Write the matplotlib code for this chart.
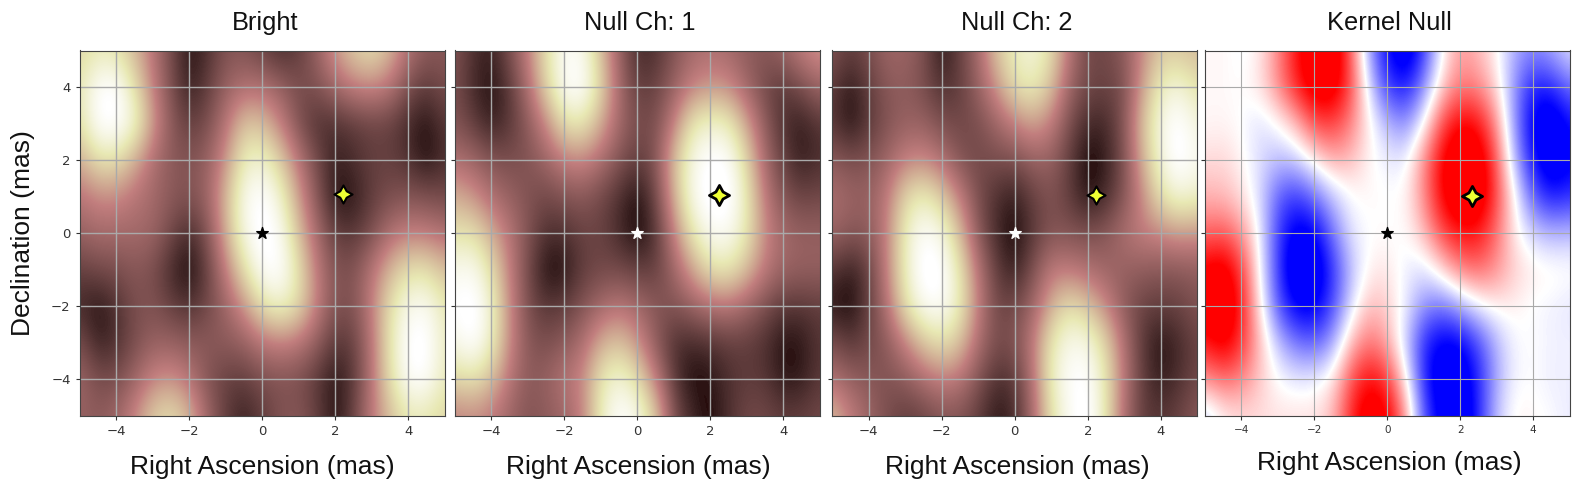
import matplotlib
matplotlib.use("Agg")
import matplotlib.pyplot as plt
import numpy as np
from matplotlib.colors import Normalize, PowerNorm
from matplotlib.path import Path

# Sample positions (mas)
ra_mas = [-5, -4.5, -4, -3.5, -3, -2.5, -2, -1.5, -1, -0.5, 0, 0.5, 1, 1.5, 2, 2.5, 3, 3.5, 4, 4.5, 5]
dec_mas = [5, 4, 3, 2, 1, 0, -1, -2, -3, -4, -5]

# One row per declination, top row first
bright = [
    [.68, .75, .72, .58, .38, .18, .03, .10, .22, .22, .15, .08, .14, .28, .50, .65, .72, .58, .36, .25, .24],
    [.75, .95, .97, .72, .42, .20, .05, .14, .28, .35, .35, .28, .20, .22, .32, .42, .45, .38, .20, .13, .20],
    [.72, .97, .98, .85, .50, .25, .14, .20, .38, .62, .60, .42, .20, .10, .10, .13, .16, .15, .08, .03, .12],
    [.55, .72, .72, .55, .35, .25, .22, .28, .48, .78, .82, .65, .38, .18, .06, .10, .15, .15, .10, .02, .10],
    [.38, .45, .45, .38, .32, .25, .22, .30, .58, .90, .98, .82, .50, .22, .03, .04, .14, .20, .22, .20, .18],
    [.28, .33, .32, .32, .30, .18, .08, .22, .55, .88, 1.0, .92, .60, .32, .14, .12, .20, .35, .42, .40, .35],
    [.15, .18, .20, .24, .20, .08, .01, .15, .42, .72, .95, .97, .72, .40, .22, .22, .38, .58, .72, .72, .60],
    [.08, .03, .10, .20, .22, .15, .10, .18, .30, .48, .72, .82, .70, .42, .22, .22, .42, .72, .90, .92, .75],
    [.20, .06, .10, .20, .28, .28, .25, .25, .25, .28, .38, .42, .38, .26, .12, .15, .38, .75, .97, .98, .78],
    [.30, .20, .20, .30, .44, .48, .38, .22, .15, .14, .20, .22, .20, .12, .03, .12, .38, .72, .95, .95, .76],
    [.28, .25, .30, .45, .65, .72, .58, .30, .14, .06, .14, .22, .24, .15, .03, .16, .40, .60, .75, .74, .68],
]
null_1 = [
    [.22, .10, .06, .20, .42, .72, .92, .90, .60, .28, .08, .10, .22, .32, .35, .32, .26, .24, .30, .42, .50],
    [.20, .08, .03, .12, .35, .68, .95, .97, .68, .32, .14, .16, .28, .42, .48, .45, .30, .18, .12, .20, .30],
    [.22, .14, .05, .12, .25, .45, .72, .75, .55, .32, .20, .20, .42, .75, .82, .78, .52, .25, .10, .05, .12],
    [.35, .30, .22, .20, .22, .30, .42, .45, .35, .22, .14, .22, .60, .88, .98, .95, .68, .32, .14, .05, .10],
    [.55, .48, .35, .28, .22, .18, .22, .24, .18, .10, .02, .16, .55, .90, 1.0, 1.0, .75, .40, .22, .16, .18],
    [.72, .72, .55, .38, .22, .10, .10, .16, .16, .08, .01, .10, .42, .75, .92, .92, .75, .45, .32, .28, .28],
    [.90, .92, .72, .42, .18, .02, .03, .14, .18, .18, .14, .15, .30, .52, .72, .75, .60, .40, .30, .28, .28],
    [.95, 1.0, .82, .45, .20, .12, .14, .22, .32, .38, .32, .24, .22, .28, .36, .38, .30, .20, .12, .12, .14],
    [.88, .98, .80, .45, .24, .20, .25, .35, .55, .62, .48, .25, .10, .08, .10, .14, .14, .10, .03, .04, .12],
    [.68, .72, .60, .38, .25, .28, .38, .45, .75, .85, .72, .42, .12, .02, .04, .10, .14, .12, .04, .05, .13],
    [.42, .45, .40, .30, .22, .25, .30, .42, .78, .97, .90, .65, .20, .08, .02, .10, .18, .18, .14, .15, .18],
]
null_2 = [
    [.22, .14, .20, .30, .30, .22, .03, .15, .32, .62, .78, .85, .72, .38, .18, .18, .25, .45, .62, .62, .58],
    [.14, .04, .14, .24, .26, .20, .10, .14, .28, .48, .72, .78, .62, .30, .18, .16, .20, .50, .78, .85, .72],
    [.12, .02, .12, .22, .28, .28, .20, .18, .20, .30, .42, .52, .42, .20, .08, .08, .22, .60, .88, .98, .85],
    [.25, .20, .22, .30, .42, .45, .36, .22, .18, .20, .20, .28, .28, .14, .01, .05, .20, .55, .85, 1.0, .90],
    [.35, .30, .28, .40, .68, .78, .65, .42, .20, .10, .05, .15, .22, .14, .03, .08, .22, .45, .72, .85, .80],
    [.30, .24, .25, .42, .78, .95, .88, .60, .24, .08, .01, .12, .22, .22, .20, .24, .35, .42, .45, .50, .48],
    [.12, .05, .14, .42, .78, 1.0, .98, .75, .38, .14, .05, .20, .40, .40, .35, .30, .28, .26, .24, .24, .26],
    [.04, .01, .14, .36, .72, .92, .95, .78, .42, .18, .18, .30, .55, .72, .62, .45, .25, .16, .14, .16, .22],
    [.20, .12, .18, .25, .42, .62, .72, .62, .35, .20, .22, .40, .75, .90, .88, .68, .36, .12, .03, .08, .16],
    [.36, .28, .24, .22, .25, .34, .42, .38, .22, .10, .12, .36, .78, .95, .97, .75, .38, .14, .05, .10, .18],
    [.60, .42, .30, .20, .14, .16, .22, .22, .14, .04, .08, .32, .72, .92, 1.0, .75, .35, .14, .12, .16, .24],
]
kernel = [
    [.02, .03, -.03, .05, .35, .70, .95, .95, .50, -.30, -.75, -.95, -.60, .00, .30, .20, .02, -.25, -.35, -.25, -.08],
    [.02, .02, .00, .08, .35, .68, .90, .90, .55, -.10, -.60, -.70, -.35, .15, .40, .35, .10, -.35, -.68, -.65, -.42],
    [.02, .03, .00, -.10, .00, .20, .55, .58, .38, .04, -.22, -.35, .00, .55, .78, .72, .32, -.35, -.82, -.95, -.72],
    [.10, .12, .03, -.10, -.20, -.15, .05, .25, .20, .03, -.05, -.06, .35, .78, 1.0, .92, .50, -.25, -.72, -.95, -.80],
    [.22, .20, .10, -.10, -.48, -.60, -.42, -.18, .00, .02, .00, .02, .35, .78, .98, .95, .55, .00, -.50, -.70, -.62],
    [.45, .50, .32, -.03, -.58, -.85, -.80, -.42, -.08, .00, .00, .00, .20, .55, .72, .70, .42, .04, -.14, -.22, -.20],
    [.80, .88, .60, .00, -.60, -.98, -.95, -.62, -.20, .04, .08, -.05, -.10, .12, .38, .45, .32, .14, .06, .04, .02],
    [.92, 1.0, .68, .08, -.52, -.80, -.82, -.55, -.10, .20, .14, -.05, -.33, -.42, -.25, -.05, .05, .04, -.02, -.04, -.08],
    [.68, .85, .62, .20, -.18, -.42, -.48, -.28, .20, .42, .26, -.15, -.65, -.82, -.78, -.55, -.22, -.02, .00, -.04, -.04],
    [.32, .44, .36, .16, .00, -.06, -.04, .07, .53, .75, .60, .06, -.66, -.93, -.93, -.65, -.24, -.02, -.01, -.05, -.05],
    [-.18, .03, .10, .10, .08, .09, .08, .20, .64, .93, .82, .33, -.52, -.84, -.98, -.65, -.17, .04, .02, -.01, -.06],
]

titles = ["Bright", "Null Ch: 1", "Null Ch: 2", "Kernel Null"]
star_ra = [0, 0, 0, 0]
star_dec = [0, 0, 0, 0]
planet_ra = [2.2, 2.24, 2.23, 2.33]
planet_dec = [1.08, 1.05, 1.06, 1.02]

W, H = 1578, 488
lefts = [79.7, 454.7, 832.3, 1204.7]
sparkle = Path.unit_regular_star(4, innerCircle=0.5)

fig = plt.figure(figsize=(W / 100, H / 100), dpi=100)

pink_norm = PowerNorm(gamma=1.2, vmin=0.02, vmax=0.95)
panels = [(bright, "pink", pink_norm), (null_1, "pink", pink_norm), (null_2, "pink", pink_norm),
          (kernel, "bwr", Normalize(-0.76, 0.76))]
star_colors = ["black", "white", "white", "black"]
planet_sizes = [170, 210, 170, 210]
planet_edges = [1.5, 2, 1.5, 2]
tick_sizes = [9.5, 9.5, 9.5, 7.5]
grid_widths = [1.0, 1.0, 1.0, 0.8]
title_shift = [2.5, 2.5, 2, 2]
label_shift = [0, 1, 3, 2]

for i, (data, cmap, norm) in enumerate(panels):
    ax = fig.add_axes([lefts[i] / W, 1 - 416 / H, 365 / W, 365.5 / H])
    half_x = (ra_mas[1] - ra_mas[0]) / 2
    half_y = (dec_mas[0] - dec_mas[1]) / 2
    ax.imshow(np.array(data), cmap=cmap, norm=norm, aspect="auto", interpolation="bicubic",
              extent=[ra_mas[0] - half_x, ra_mas[-1] + half_x, dec_mas[-1] - half_y, dec_mas[0] + half_y])
    ax.set_xlim(-5, 5)
    ax.set_ylim(-5, 5)
    ax.set_xticks([-4, -2, 0, 2, 4])
    ax.set_yticks([-4, -2, 0, 2, 4])
    ax.grid(True, color="#aaaaaa", linewidth=grid_widths[i])
    ax.tick_params(labelsize=tick_sizes[i], colors="#333333", length=3)
    if i > 0:
        ax.tick_params(labelleft=False)
    for spine in ax.spines.values():
        spine.set_color("#444444")
    ax.scatter(star_ra[i], star_dec[i], marker="*", s=75, color=star_colors[i], zorder=3)
    ax.scatter(planet_ra[i], planet_dec[i], marker=sparkle, s=planet_sizes[i], color="#eeff33",
               edgecolor="black", linewidth=planet_edges[i], zorder=4)
    center = lefts[i] + 182.5
    fig.text((center + title_shift[i]) / W, 1 - 23 / H, titles[i], family="Liberation Sans", fontsize=18.3,
             ha="center", va="center", color="#111111")
    fig.text((center + label_shift[i]) / W, 1 - (463 if i == 3 else 467) / H, "Right Ascension (mas)",
             family="Liberation Sans", fontsize=19, ha="center", va="center", color="#111111")

fig.text(23 / W, 1 - 233 / H, "Declination (mas)", family="Liberation Sans", fontsize=19, rotation=90,
         ha="center", va="center", color="#111111")

fig.savefig("out.png", dpi=100)
